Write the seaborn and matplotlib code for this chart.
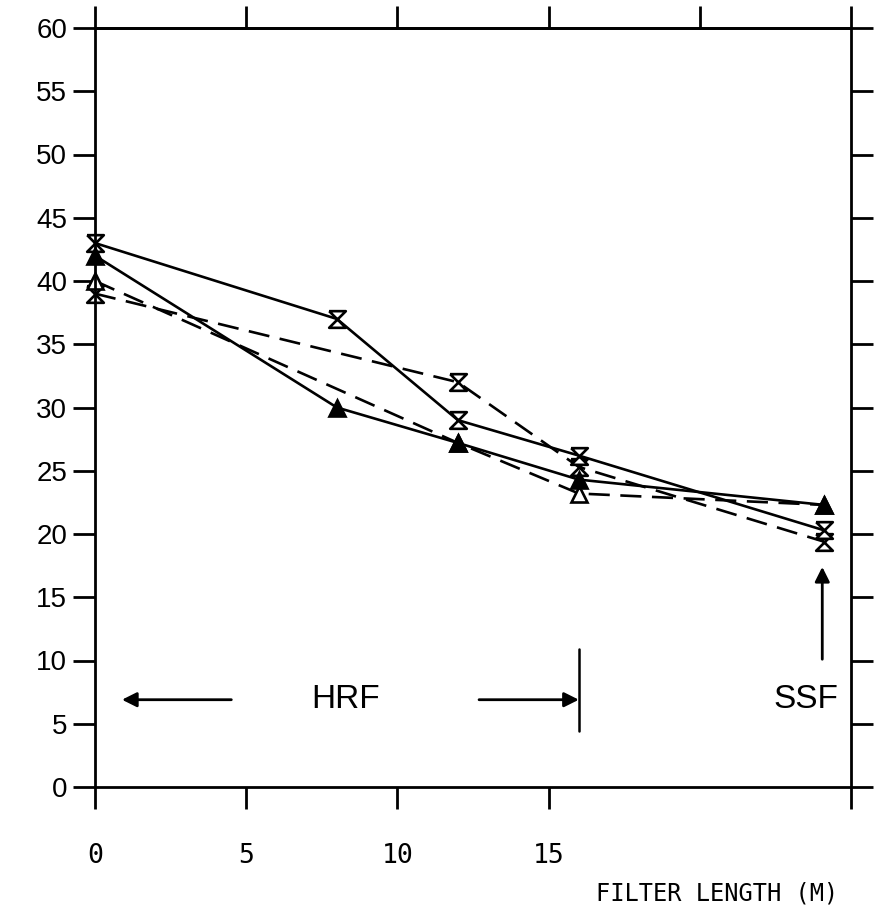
import matplotlib
matplotlib.use("Agg")
import matplotlib.pyplot as plt
import seaborn as sns

# filter length (m); the last point is the slow sand filter (SSF)
x_solid = [0, 8, 12, 16, 24.1]
hourglass_solid = [43, 37, 29, 26.2, 20.3]
triangle_solid = [42, 30, 27.2, 24.3, 22.3]

x_dashed = [0, 12, 16, 24.1]
hourglass_dashed = [39, 32, 25.3, 19.4]
triangle_dashed = [40, 27.2, 23.2, 22.3]

y_ticks = list(range(0, 65, 5))
x_ticks_bottom = [0, 5, 10, 15, 25]
x_tick_labels = ["0", "5", "10", "15", ""]
x_ticks_top = [0, 5, 10, 15, 20, 25]

sns.set_theme(
    style="ticks",
    rc={
        "axes.edgecolor": "black",
        "axes.linewidth": 2,
        "xtick.color": "black",
        "ytick.color": "black",
        "text.color": "black",
        "axes.labelcolor": "black",
    },
)
plt.rcParams["font.family"] = ["Liberation Sans", "DejaVu Sans"]

HOURGLASS = [(-1, 1), (1, 1), (-1, -1), (1, -1), (-1, 1)]
DASH = (0, (8, 4))

fig = plt.figure(figsize=(8.77, 9.17), dpi=100)
ax = fig.add_axes([95 / 877, 1 - 787 / 917, (851 - 95) / 877, (787 - 28) / 917])

#
# Series (dashed first so filled markers sit on top)
#
common = dict(ax=ax, color="black", linewidth=1.9, markeredgecolor="black",
              markeredgewidth=1.9, clip_on=False)

sns.lineplot(x=x_dashed, y=hourglass_dashed, marker=HOURGLASS, markersize=12,
             markerfacecolor="white", linestyle=DASH, **common)
sns.lineplot(x=x_dashed, y=triangle_dashed, marker="^", markersize=11,
             markerfacecolor="white", linestyle=DASH, **common)
sns.lineplot(x=x_solid, y=hourglass_solid, marker=HOURGLASS, markersize=12,
             markerfacecolor="white", **common)
sns.lineplot(x=x_solid, y=triangle_solid, marker="^", markersize=11,
             markerfacecolor="black", **common)

#
# Axes
#
ax.set_xlim(0, 25)
ax.set_ylim(0, 60)
ax.set_yticks(y_ticks)
ax.set_yticklabels([str(v) for v in y_ticks], fontsize=20)
ax.set_xticks(x_ticks_bottom)
ax.set_xticklabels(x_tick_labels, fontsize=19, family="DejaVu Sans Mono")
ax.tick_params(axis="x", direction="out", length=16, width=2, pad=24)
ax.tick_params(axis="y", direction="out", length=16, width=2, pad=4,
               right=True, labelright=False)
ax.set_xlabel("")
ax.set_ylabel("")

top = ax.secondary_xaxis("top")
top.set_xticks(x_ticks_top)
top.tick_params(direction="out", length=16, width=2, labeltop=False)
top.spines["top"].set_linewidth(2)

#
# Annotations
#
ax.text(8.3, 6.9, "HRF", ha="center", va="center", fontsize=24, color="black")
ax.annotate("", xy=(0.8, 6.9), xytext=(4.6, 6.9),
            arrowprops=dict(arrowstyle="-|>", color="black", lw=2, mutation_scale=22))
ax.annotate("", xy=(16, 6.9), xytext=(12.7, 6.9),
            arrowprops=dict(arrowstyle="-|>", color="black", lw=2, mutation_scale=22,
                            shrinkA=0, shrinkB=0))
ax.plot([16, 16], [4.4, 10.9], color="black", lw=1.8)

ax.text(23.5, 6.9, "SSF", ha="center", va="center", fontsize=24, color="black")
ax.annotate("", xy=(24.05, 17.4), xytext=(24.05, 10.1),
            arrowprops=dict(arrowstyle="-|>", color="black", lw=2, mutation_scale=22,
                            shrinkA=0, shrinkB=0))

fig.text(838 / 877, 1 - 893 / 917, "FILTER LENGTH (M)", ha="right", va="center",
         fontsize=17, family="DejaVu Sans Mono", color="black")

plt.savefig("out.png", dpi=100)
plt.close()
